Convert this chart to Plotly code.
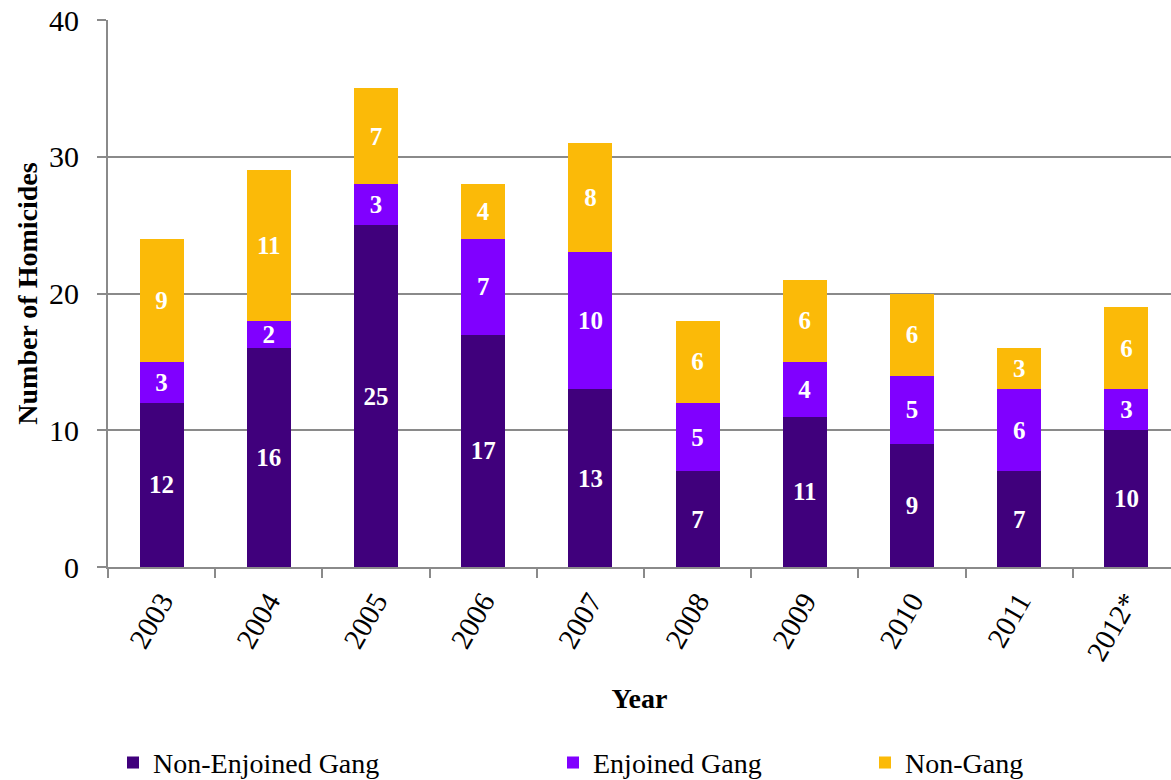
import plotly.graph_objects as go

years = ["2003", "2004", "2005", "2006", "2007", "2008", "2009", "2010", "2011", "2012*"]
non_enjoined = [12, 16, 25, 17, 13, 7, 11, 9, 7, 10]
enjoined = [3, 2, 3, 7, 10, 5, 4, 5, 6, 3]
non_gang = [9, 11, 7, 4, 8, 6, 6, 6, 3, 6]

FONT = "Liberation Serif"
series = [
    ("Non-Enjoined Gang", non_enjoined, "#40007C", "legend"),
    ("Enjoined Gang", enjoined, "#8000FF", "legend2"),
    ("Non-Gang", non_gang, "#FBBA08", "legend3"),
]

fig = go.Figure()
for name, vals, color, lg in series:
    fig.add_trace(go.Bar(
        x=years, y=vals, name=name, marker=dict(color=color, line=dict(width=0)),
        width=0.41, text=vals, textposition="inside", insidetextanchor="middle",
        constraintext="none", textangle=0, showlegend=True,
        textfont=dict(family=FONT, size=25, color="white", weight="bold"),
        legend=lg,
    ))

PW = 1063.0
def px2paper(px):
    return (px - 108) / PW

leg_common = dict(orientation="h", yanchor="middle", y=-0.358, xanchor="left",
                  font=dict(family=FONT, size=28, color="black"),
                  bgcolor="rgba(0,0,0,0)", borderwidth=0, visible=True)

fig.update_layout(
    width=1171, height=780,
    margin=dict(l=108, r=0, t=20, b=213, autoexpand=False),
    barmode="stack",
    showlegend=True,
    plot_bgcolor="white", paper_bgcolor="white",
    font=dict(family=FONT, color="black"),
    legend=dict(x=px2paper(113), **leg_common),
    legend2=dict(x=px2paper(553), **leg_common),
    legend3=dict(x=px2paper(865), **leg_common),
    xaxis=dict(
        range=[-0.5, 9.416], type="category", automargin=False,
        showline=True, linecolor="#8A8A8A", linewidth=2,
        ticks="outside", tickson="boundaries", ticklen=9, tickcolor="#8A8A8A", tickwidth=2,
        tickangle=-60, tickfont=dict(family=FONT, size=29, color="black"),
        ticklabelstandoff=4,
        title=dict(text="<b>Year</b>", font=dict(family=FONT, size=28, color="black"), standoff=23),
        showgrid=False,
    ),
    yaxis=dict(
        range=[0, 40], tickvals=[0, 10, 20, 30, 40], automargin=False,
        showline=True, linecolor="#8A8A8A", linewidth=2,
        ticks="outside", ticklen=9, tickcolor="#8A8A8A", tickwidth=2,
        tickfont=dict(family=FONT, size=30, color="black"),
        ticklabelstandoff=12,
        showgrid=True, gridcolor="#8A8A8A", gridwidth=2,
        zeroline=False,
        title=dict(text="<b>Number of Homicides</b>", font=dict(family=FONT, size=28, color="black"), standoff=3),
    ),
)

fig.write_html("out.html", config={"displayModeBar": False},
               post_script="document.body.style.margin='0';document.body.style.overflow='hidden';")
